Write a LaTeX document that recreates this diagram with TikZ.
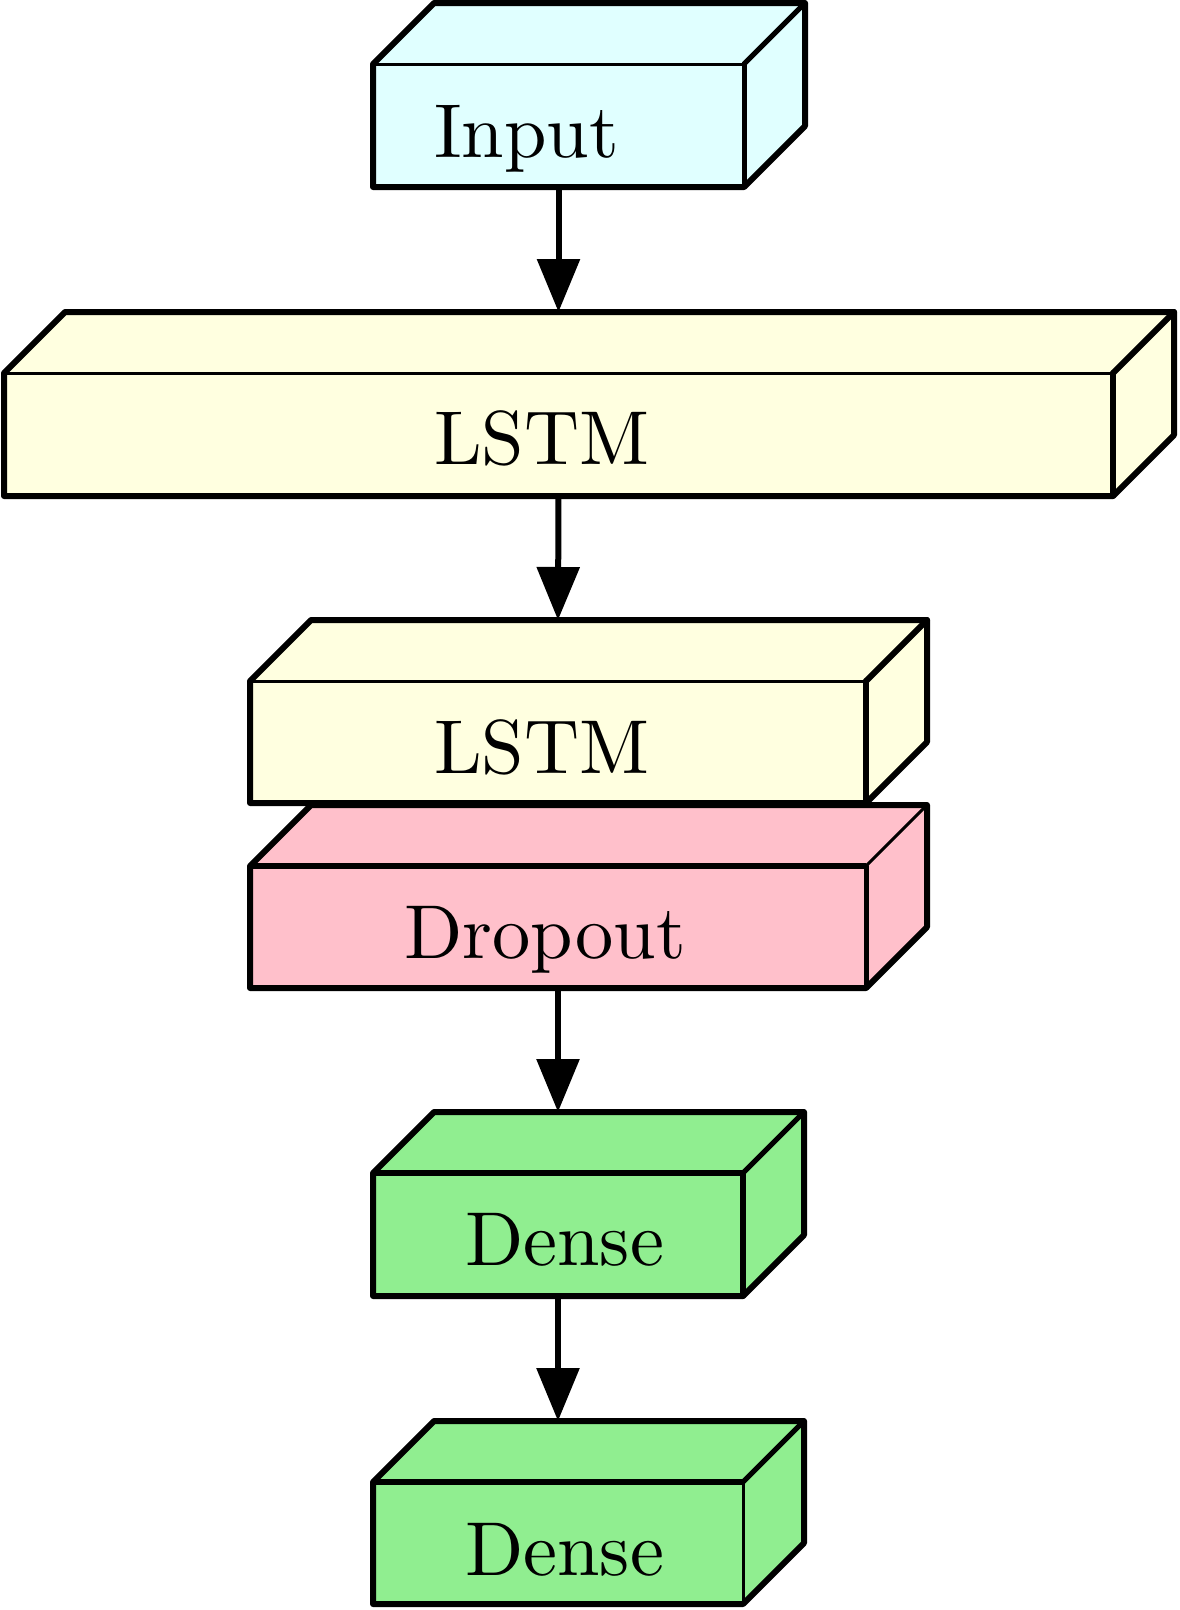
\documentclass[tikz,border=0pt]{standalone}
\usetikzlibrary{arrows.meta}
\definecolor{cyanfill}{HTML}{E0FFFF}
\definecolor{yellowfill}{HTML}{FFFFE0}
\definecolor{pinkfill}{HTML}{FFC0CB}
\definecolor{greenfill}{HTML}{90EE90}
\tikzset{
  boxline/.style={draw=black, line width=6pt, line join=round},
  conn/.style={-{Triangle[length=53pt,width=42pt]}, line width=6pt},
  lbl/.style={anchor=base west, inner sep=0pt},
}
% name, x1, y1, x2, y2, fill, top width, right width, diagonal width
\newcommand\mybox[9]{%
  \path[boxline, fill=#6] (#2,#5) -- (#2,#3) -- ({#2+61},{#3-61}) -- ({#4+61},{#3-61})
     -- ({#4+61},{#5-61}) -- (#4,#5) -- cycle;
  \draw[line width=#7] (#2,#3) -- (#4,#3);
  \draw[line width=#8, line cap=round] (#4,#3) -- (#4,#5);
  \draw[line width=#9, line cap=round] (#4,#3) -- ({#4+61},{#3-61});
  \node[inner sep=0pt, minimum width={(#4-#2)*1pt}, minimum height={(#5-#3)*1pt}]
     (#1) at ({(#2+#4)/2},{(#3+#5)/2}) {};
  \coordinate (#1top) at ({(#2+#4)/2},{#3-61});
}
\newcommand\lbltext[1]{\scalebox{7.64}{#1}}
\begin{document}
\begin{tikzpicture}[x=1pt,y=-1pt]
\useasboundingbox (0,0) rectangle (1179,1610);
\fill[white] (0,0) rectangle (1179,1610);

\mybox{input}{373}{64}{744}{187}{cyanfill}{3pt}{5pt}{5pt}
\mybox{lstma}{4}{373}{1113}{496}{yellowfill}{3pt}{6pt}{6pt}
\mybox{drop}{250}{866}{866}{988}{pinkfill}{6pt}{5pt}{3pt}
\mybox{lstmb}{250}{681}{866}{803}{yellowfill}{3pt}{6pt}{6pt}
\mybox{densea}{373}{1173}{743}{1296}{greenfill}{6pt}{6pt}{5pt}
\mybox{denseb}{373}{1482}{743}{1604}{greenfill}{6pt}{3pt}{5pt}

\node[lbl] (inputlbl) at (434,157) {\lbltext{Input}};
\node[lbl] (lstmalbl) at (434,464) {\lbltext{LSTM}};
\node[lbl] (lstmblbl) at (434,773) {\lbltext{LSTM}};
\node[lbl] (droplbl) at (404,958) {\lbltext{Dropout}};
\node[lbl] (densealbl) at (465,1265) {\lbltext{Dense}};
\node[lbl] (denseblbl) at (465,1575) {\lbltext{Dense}};

\draw[conn] (input.south) -- (lstmatop);
\draw[conn] (lstma.south) -- (lstmbtop);
\draw[conn] (drop.south) -- (denseatop);
\draw[conn] (densea.south) -- (densebtop);
\end{tikzpicture}
\end{document}
